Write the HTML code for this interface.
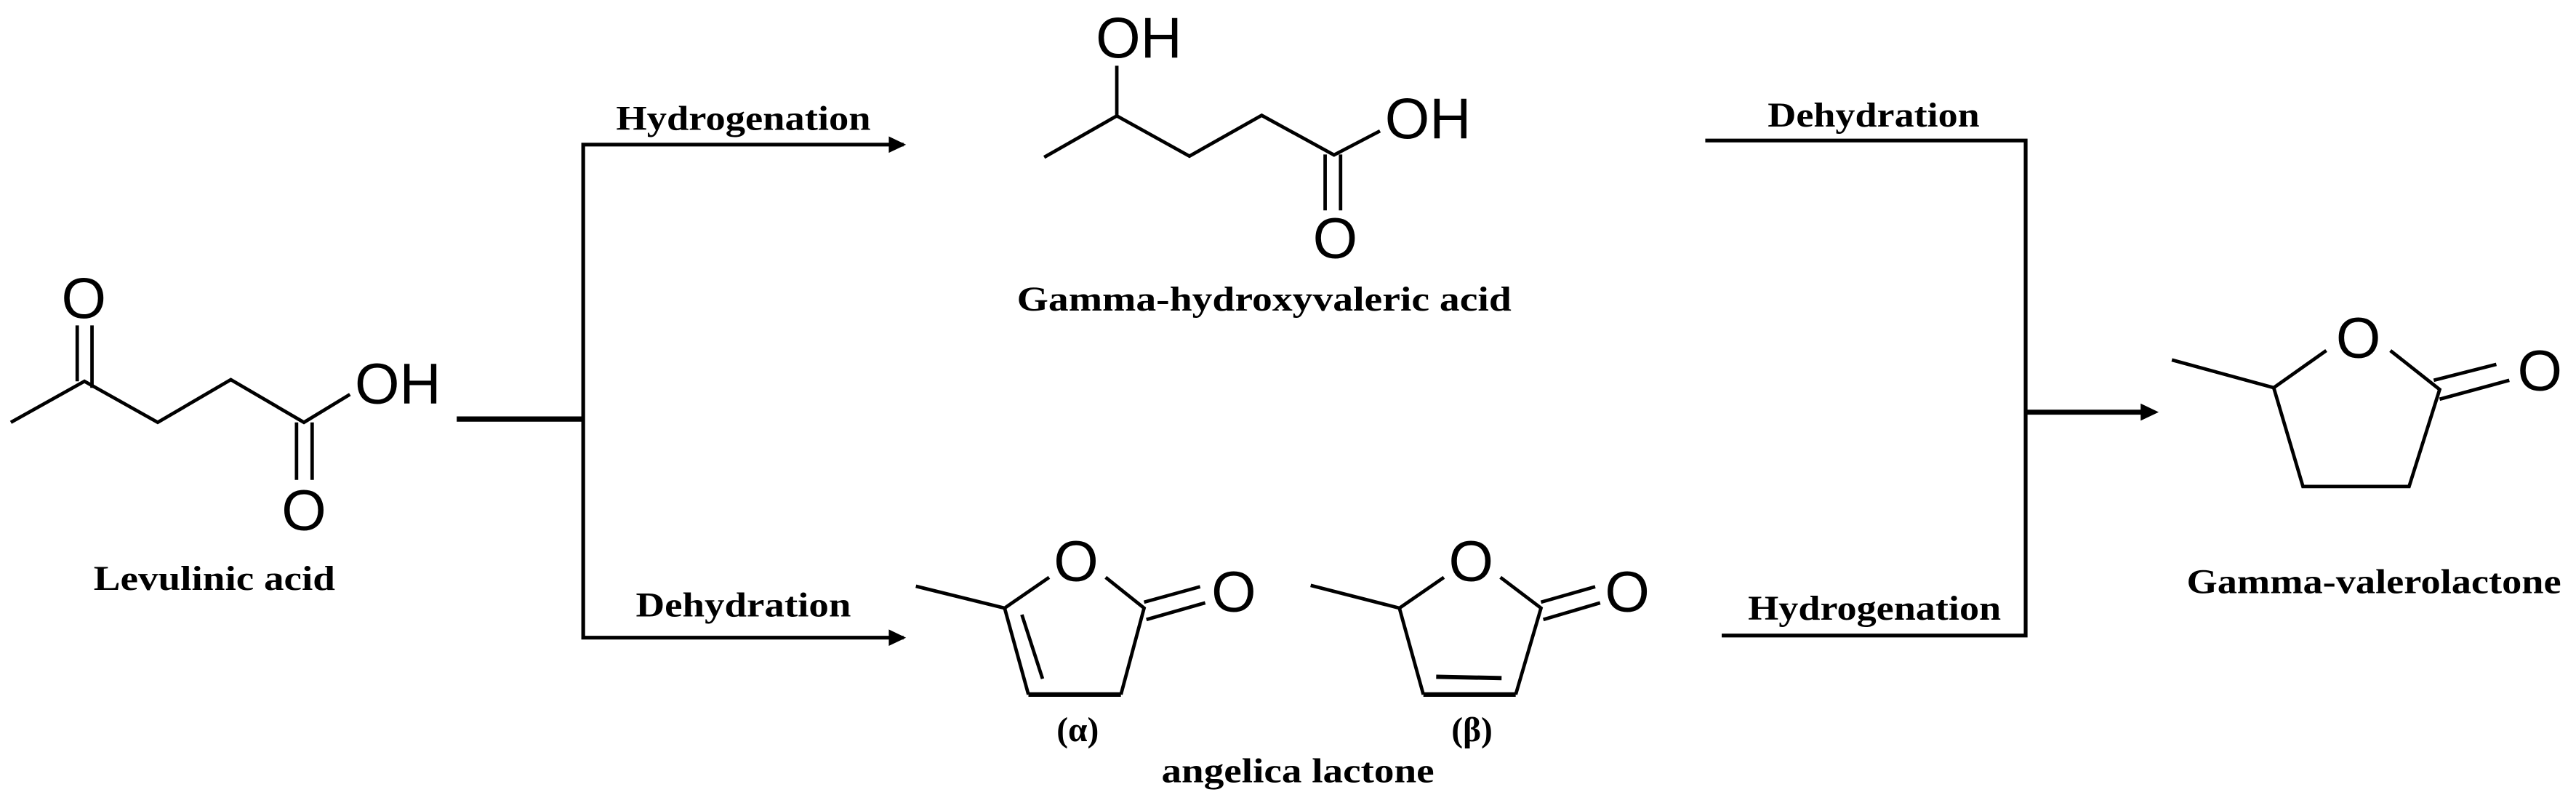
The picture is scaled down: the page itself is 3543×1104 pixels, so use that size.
<!DOCTYPE html>
<html><head><meta charset="utf-8"><style>
html,body{margin:0;padding:0;background:#fff;}
svg{display:block;}
.b{stroke:#000;stroke-width:2.1;fill:none;stroke-linecap:butt;}
.c{stroke:#000;stroke-width:2.3;fill:none;}
.a{font-family:"Liberation Sans",sans-serif;font-size:35px;fill:#000;}
.t{font-family:"Liberation Serif",serif;font-weight:bold;font-size:21px;fill:#000;}
</style></head><body>
<svg width="3543" height="1104" viewBox="0 0 1568 488.6" preserveAspectRatio="none" xmlns="http://www.w3.org/2000/svg">
<!-- Levulinic acid -->
<polyline class="b" points="6.6,257 51.4,232 96,257 140.5,231 185,257 213,240"/>
<line class="b" x1="47" y1="198" x2="47" y2="232"/>
<line class="b" x1="56" y1="198" x2="56" y2="236"/>
<line class="b" x1="180.5" y1="257" x2="180.5" y2="292"/>
<line class="b" x1="190" y1="257" x2="190" y2="292"/>
<text class="a" x="51" y="193.5" text-anchor="middle">O</text>
<text class="a" x="185" y="322.5" text-anchor="middle">O</text>
<text class="a" x="216" y="245.5">OH</text>
<text class="t" x="57" y="359" textLength="147" lengthAdjust="spacingAndGlyphs">Levulinic acid</text>

<!-- left connectors -->
<line x1="278" y1="255" x2="355" y2="255" stroke="#000" stroke-width="3.2"/>
<polyline class="c" points="550,88 355,88 355,388 550,388"/>
<polygon points="551.5,88 541,83 541,93" fill="#000"/>
<polygon points="551.5,388 541,383 541,393" fill="#000"/>
<text class="t" x="375" y="79" textLength="155" lengthAdjust="spacingAndGlyphs">Hydrogenation</text>
<text class="t" x="387" y="375" textLength="131" lengthAdjust="spacingAndGlyphs">Dehydration</text>

<!-- Gamma-hydroxyvaleric acid -->
<polyline class="b" points="635.6,95.7 679.8,70.5 724,95 768,70.2 812,94.3 840,79.7"/>
<line class="b" x1="679.8" y1="40" x2="679.8" y2="70.5"/>
<line class="b" x1="806.6" y1="94" x2="806.6" y2="128"/>
<line class="b" x1="816" y1="94" x2="816" y2="128"/>
<text class="a" x="667" y="35">OH</text>
<text class="a" x="843" y="84">OH</text>
<text class="a" x="812.7" y="157" text-anchor="middle">O</text>
<text class="t" x="619" y="189" textLength="301" lengthAdjust="spacingAndGlyphs">Gamma-hydroxyvaleric  acid</text>

<!-- alpha angelica lactone -->
<polyline class="b" points="557.5,356.7 611.5,370 638.6,351.3"/>
<polyline class="b" points="673,351.3 696.4,370 682.3,422.6"/>
<line x1="682.3" y1="422.6" x2="626" y2="422.6" stroke="#000" stroke-width="2.8"/>
<polyline class="b" points="626,422.6 611.5,370"/>
<line class="b" x1="622" y1="374" x2="634.6" y2="413"/>
<line class="b" x1="696.4" y1="366.4" x2="730.5" y2="357"/>
<line class="b" x1="697.8" y1="377" x2="733.6" y2="366.8"/>
<text class="a" x="655" y="353.5" text-anchor="middle">O</text>
<text class="a" x="751" y="372" text-anchor="middle">O</text>
<text class="t" x="656" y="451" text-anchor="middle">(α)</text>

<!-- beta angelica lactone -->
<polyline class="b" points="797.8,356.2 851.8,370 878.9,351.3"/>
<polyline class="b" points="913.3,351.3 938,370 922.6,422.6"/>
<line x1="922.6" y1="422.6" x2="866.4" y2="422.6" stroke="#000" stroke-width="2.8"/>
<polyline class="b" points="866.4,422.6 851.8,370"/>
<line x1="874.2" y1="411.8" x2="914" y2="412.6" stroke="#000" stroke-width="2.6"/>
<line class="b" x1="938" y1="366.4" x2="971" y2="357"/>
<line class="b" x1="939.4" y1="377" x2="974" y2="366.8"/>
<text class="a" x="895.4" y="353.5" text-anchor="middle">O</text>
<text class="a" x="990.5" y="372" text-anchor="middle">O</text>
<text class="t" x="896" y="451" text-anchor="middle">(β)</text>
<text class="t" x="707" y="476" textLength="166" lengthAdjust="spacingAndGlyphs">angelica lactone</text>

<!-- right connectors -->
<polyline class="c" points="1038,85.5 1233,85.5 1233,386.7 1048,386.7"/>
<line x1="1233" y1="250.8" x2="1305" y2="250.8" stroke="#000" stroke-width="3"/>
<polygon points="1314,250.8 1303,245.5 1303,256" fill="#000"/>
<text class="t" x="1076" y="77" textLength="129" lengthAdjust="spacingAndGlyphs">Dehydration</text>
<text class="t" x="1064" y="377" textLength="154" lengthAdjust="spacingAndGlyphs">Hydrogenation</text>

<!-- Gamma-valerolactone -->
<polyline class="b" points="1322,219 1384,235.9 1416,213.3"/>
<polyline class="b" points="1455,213.3 1485,237 1466.4,296 1401.8,296 1384,235.9"/>
<line class="b" x1="1481.4" y1="231.4" x2="1519.5" y2="221.7"/>
<line class="b" x1="1485" y1="242.9" x2="1527.4" y2="231.4"/>
<text class="a" x="1435.5" y="217.5" text-anchor="middle">O</text>
<text class="a" x="1546" y="237.5" text-anchor="middle">O</text>
<text class="t" x="1331" y="361" textLength="228" lengthAdjust="spacingAndGlyphs">Gamma-valerolactone</text>
</svg>
</body></html>
